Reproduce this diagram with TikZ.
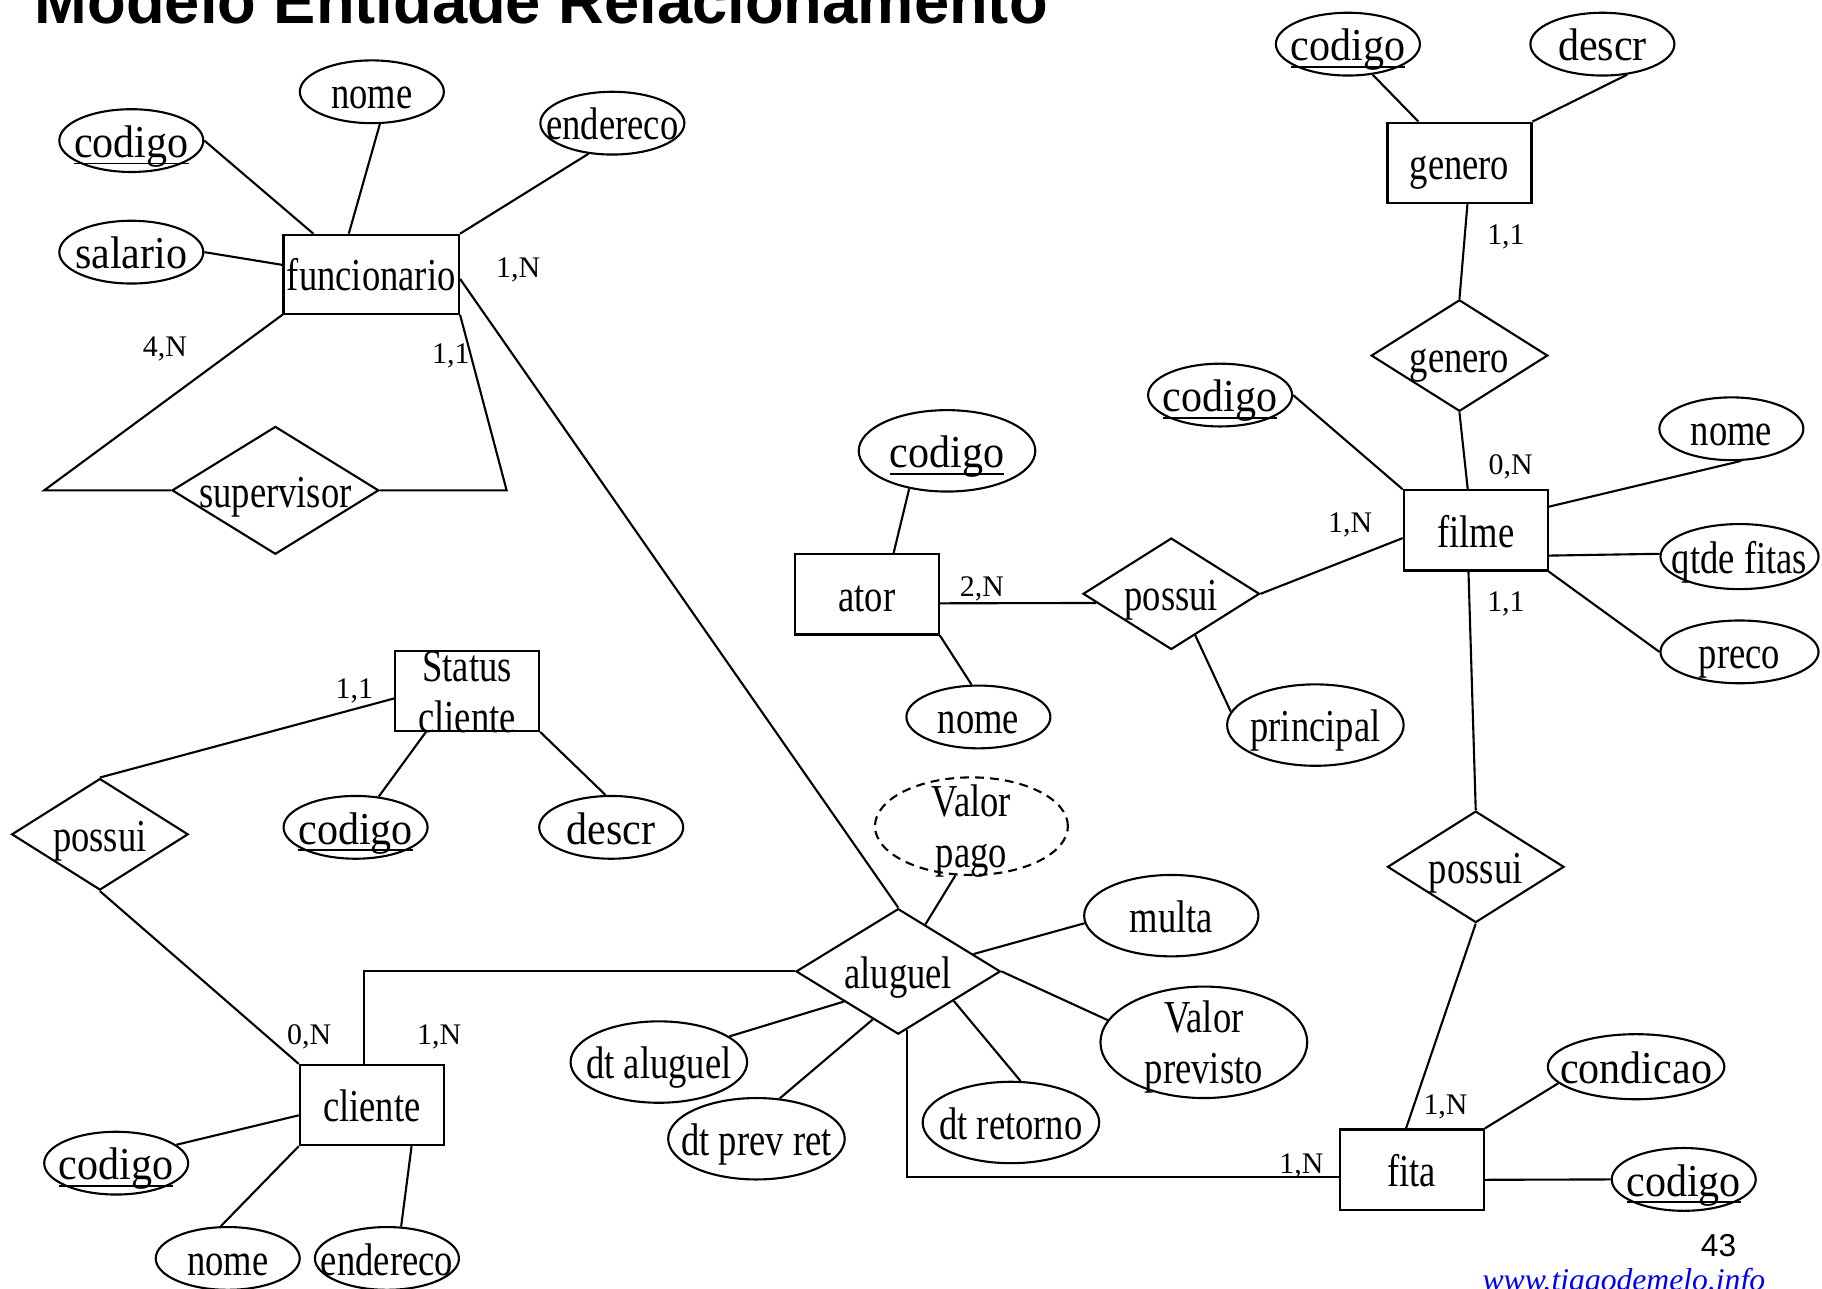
\documentclass[tikz,border=0pt]{standalone}
\usepackage{fontspec}
\setmainfont{Liberation Serif}
\setsansfont{Liberation Sans}
\newfontfamily\shapefont{Liberation Serif}[FakeStretch=0.8]
\newfontfamily\widefont{Liberation Serif}[FakeStretch=0.92]
\usetikzlibrary{shapes.geometric}

\newcommand\keyattr[1]{\setbox0\hbox{#1}\rlap{\rule[-4pt]{\wd0}{1pt}}\box0}

\begin{document}
\begin{tikzpicture}[x=0.6608pt, y=-0.6608pt, line width=1.2pt,
  txt/.style={font={\shapefont\fontsize{26}{29}\selectfont}, text height=21pt, text depth=2pt,
    execute at begin node={\hbox to 0pt\bgroup\hss}, execute at end node={\hss\egroup}},
  ent/.style={draw, rectangle, inner sep=0pt, minimum width=81.9pt, minimum height=45.6pt, txt},
  attr/.style={draw, ellipse, inner sep=0pt, minimum width=81.9pt, minimum height=35.7pt, txt},
  bigattr/.style={attr, minimum width=100.4pt, minimum height=46.3pt},
  rel/.style={draw, diamond, inner sep=0pt, minimum width=100.4pt, minimum height=63.4pt, txt},
  wide/.style={font={\widefont\fontsize{26}{29}\selectfont}},
  card/.style={inner sep=0pt, font=\fontsize{17}{17}\selectfont}]
\useasboundingbox (0,0) rectangle (1568,1109.3);

\node[anchor=base west, inner sep=0pt, font=\sffamily\bfseries\fontsize{36}{36}\selectfont] (title) at (29,20) {Modelo Entidade Relacionamento};

% funcionario
\node[ent, minimum width=99.8pt, minimum height=44.9pt] (func) at (319.5,236) {funcionario};
\node[attr, wide] (fcod) at (113,121) {\keyattr{codigo}};
\node[attr] (fnome) at (320,79) {nome};
\node[attr] (fend) at (527,106) {endereco};
\node[attr, wide] (fsal) at (113,217) {salario};
\node[rel, minimum width=117.6pt, minimum height=72.7pt] (sup) at (237,422) {supervisor};

% genero
\node[ent] (gen) at (1256,140) {genero};
\node[attr, wide] (gcod) at (1160,38) {\keyattr{codigo}};
\node[attr, wide] (gdes) at (1379,38) {descr};
\node[rel] (rgen) at (1256,306) {genero};

% filme
\node[ent] (film) at (1270,456.5) {filme};
\node[attr, wide] (fmcod) at (1050,340) {\keyattr{codigo}};
\node[attr] (fmnome) at (1490,369) {nome};
\node[attr, minimum width=89.9pt, minimum height=37pt] (fmqt) at (1497,479) {qtde fitas};
\node[attr, minimum width=89.9pt] (fmpr) at (1497,561) {preco};
\node[rel] (rfita) at (1270,746) {possui};

% ator
\node[ent] (ator) at (746,511.5) {ator};
\node[bigattr, wide] (acod) at (815,388) {\keyattr{codigo}};
\node[attr] (anome) at (842,617) {nome};
\node[rel] (ratr) at (1008,511) {possui};
\node[bigattr] (princ) at (1132,624) {principal};

% status cliente
\node[ent] (stat) at (402,594.5) {\begin{tabular}{@{}c@{}}Status\\cliente\end{tabular}};
\node[attr, wide] (scod) at (306,712) {\keyattr{codigo}};
\node[attr, wide] (sdes) at (526,712) {descr};
\node[rel] (rstat) at (86,718) {possui};

% cliente
\node[ent] (cli) at (320,951) {cliente};
\node[attr, wide] (ccod) at (100,1001) {\keyattr{codigo}};
\node[attr] (cnome) at (196,1083) {nome};
\node[attr] (cend) at (333,1083) {endereco};

% aluguel
\node[rel, minimum width=116.3pt, minimum height=71.4pt] (alug) at (773,836) {aluguel};
\node[attr, dash pattern=on 5pt off 3.5pt, minimum width=109.7pt, minimum height=55.5pt] (vpago) at (836,711) {\begin{tabular}{@{}c@{}}Valor\\pago\end{tabular}};
\node[bigattr, minimum width=99.1pt] (multa) at (1008,788) {multa};
\node[attr, minimum width=117.6pt, minimum height=63.4pt] (vprev) at (1036,897) {\begin{tabular}{@{}c@{}}Valor\\previsto\end{tabular}};
\node[bigattr] (dret) at (870,966) {dt retorno};
\node[bigattr] (dalug) at (567,914) {dt aluguel};
\node[bigattr] (dprev) at (651,980) {dt prev ret};

% fita
\node[ent] (fita) at (1215,1006.5) {fita};
\node[bigattr, wide, minimum height=37pt] (cond) at (1408,918) {condicao};
\node[attr, wide] (tcod) at (1449,1015) {\keyattr{codigo}};

% ligacoes
\draw (fcod.east) -- (func.145.5);
\draw (fnome.284.5) -- (func.119.8);
\draw (fend.232) -- (func.north east);
\draw (fsal.east) -- (func.174);
\draw (func.south west) -- (38,422) -- (sup.west);
\draw (func.south east) -- (436,422) -- (sup.east);
\draw (func.357) -- (alug.north);

\draw (gcod.309) -- (gen.135.8);
\draw (gdes.309) -- (gen.north east);
\draw (gen.281.6) -- (rgen.north);
\draw (rgen.south) -- (film.101.5);

\draw (fmcod.east) -- (film.north west);
\draw (fmnome.287) -- (film.18.3);
\draw (fmqt.178) -- (film.341.7);
\draw (fmpr.west) -- (film.south east);
\draw (film.260) -- (rfita.north);
\draw (rfita.south) -- (fita.98);

\draw (acod.225) -- (ator.57.5);
\draw (ator.south east) -- (anome.102);
\draw (ator.353.1) -- (ratr.187);
\draw (ratr.east) -- (film.186);
\draw (ratr.300.7) -- (princ.171.8);

\draw (stat.225.4) -- (scod.53.5);
\draw (stat.south east) -- (sdes.100.5);
\draw (rstat.north) -- (stat.186);
\draw (rstat.south) -- (cli.north west);

\draw (ccod.17.7) -- (cli.188.3);
\draw (cnome.102.5) -- (cli.south west);
\draw (cend.66) -- (cli.314.2);
\draw (cli.101.3) |- (alug.west);

\draw (vpago.252.4) -- (alug.60.8);
\draw (multa.185.3) -- (alug.13);
\draw (vprev.167.5) -- (alug.east);
\draw (dret.77) -- (alug.332);
\draw (dalug.20) -- (alug.209.5);
\draw (dprev.60.8) -- (alug.242.3);
\draw (alug.279) |- (fita.186.9);

\draw (cond.192.5) -- (fita.north east);
\draw (fita.352.2) -- (tcod.west);

% cardinalidades
\node[card] (c1) at (446,232) {1,N};
\node[card] (c2) at (142,300) {4,N};
\node[card] (c3) at (388,306) {1,1};
\node[card] (c4) at (1296,204) {1,1};
\node[card] (c5) at (1300,402) {0,N};
\node[card] (c6) at (1162,452) {1,N};
\node[card] (c7) at (845,507) {2,N};
\node[card] (c8) at (1296,520) {1,1};
\node[card] (c9) at (305,595) {1,1};
\node[card] (c10) at (266,892) {0,N};
\node[card] (c11) at (378,892) {1,N};
\node[card] (c12) at (1244,953) {1,N};
\node[card] (c13) at (1120,1003) {1,N};

\node[anchor=base, inner sep=0pt, font=\sffamily\fontsize{18}{18}\selectfont] (pg) at (1479,1081) {43};
\node[anchor=base west, inner sep=0pt, font=\itshape\fontsize{18}{18}\selectfont, text=blue] (url) at (1275,1111) {www.tiagodemelo.info};
\end{tikzpicture}
\end{document}
